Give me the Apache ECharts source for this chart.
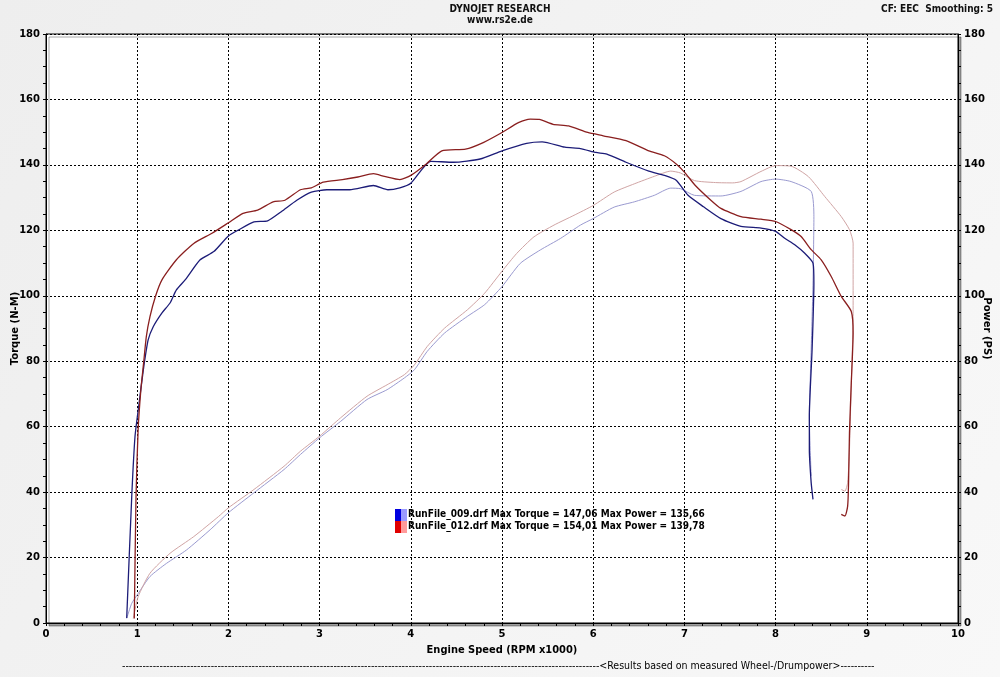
<!DOCTYPE html>
<html lang="de">
<head>
    <meta charset="UTF-8">
    <title>Dynojet RunFile 009 / 012</title>
    <script src="https://cdn.jsdelivr.net/npm/echarts@6/dist/echarts.min.js"></script>
    <style>
        body { margin: 0; padding: 0; }
        #chart { width: 1000px; height: 677px; }
    </style>
</head>
<body>
    <div id="chart"></div>
    <script>
        // RunFile_009 (blau) - Drehmoment
        const rpm009Torque = [0.885, 0.94, 0.976, 1.02, 1.067, 1.12, 1.177, 1.27, 1.36, 1.43, 1.53, 1.69, 1.84, 2.0, 2.11, 2.28, 2.43, 2.58, 2.75, 2.91, 3.08, 3.33, 3.59, 3.75, 3.88, 4.0, 4.22, 4.47, 4.76, 5.0, 5.27, 5.44, 5.69, 5.86, 6.03, 6.15, 6.36, 6.61, 6.78, 6.91, 7.04, 7.21, 7.4, 7.62, 7.84, 8.0, 8.1, 8.21, 8.32, 8.41, 8.42, 8.4, 8.37, 8.37, 8.39, 8.41];
        const torque009 = [1.5, 38.6, 57, 67, 77.3, 86.5, 90.6, 94.7, 97.8, 101.8, 105, 111, 113.5, 118.3, 120.1, 122.6, 122.9, 125.7, 129.2, 131.7, 132.4, 132.4, 133.7, 132.4, 133, 134.4, 141.1, 140.8, 141.8, 144.3, 146.6, 147.06, 145.4, 145, 143.8, 143.3, 140.8, 138.1, 136.8, 135.3, 130.7, 127.2, 123.6, 121.2, 120.7, 119.7, 117.6, 115.6, 113, 110, 103.9, 83.5, 63.2, 53, 42.9, 37.8];

        // RunFile_012 (rot) - Drehmoment
        const rpm012Torque = [0.968, 0.987, 1.01, 1.04, 1.07, 1.1, 1.14, 1.2, 1.27, 1.43, 1.62, 1.82, 2.0, 2.16, 2.32, 2.49, 2.62, 2.79, 2.91, 3.04, 3.25, 3.42, 3.59, 3.71, 3.88, 4.0, 4.17, 4.34, 4.6, 4.8, 5.0, 5.18, 5.31, 5.41, 5.56, 5.73, 5.94, 6.11, 6.36, 6.61, 6.78, 6.91, 7.0, 7.12, 7.29, 7.4, 7.62, 7.84, 8.0, 8.17, 8.28, 8.39, 8.5, 8.61, 8.72, 8.83, 8.85, 8.83, 8.81, 8.8, 8.79, 8.76, 8.72];
        const torque012 = [1.4, 38.6, 59, 71.2, 79.4, 87.5, 93.6, 99.8, 104.8, 111, 116, 119.1, 122.3, 125.2, 126.2, 128.7, 129.2, 132.4, 133, 134.7, 135.5, 136.3, 137.3, 136.5, 135.5, 136.8, 140.3, 144.3, 144.8, 146.9, 149.9, 152.9, 154.01, 153.9, 152.4, 151.9, 149.9, 148.9, 147.4, 144.3, 142.8, 140.3, 137.8, 133.7, 129.2, 126.7, 124.2, 123.4, 122.7, 120.2, 118.1, 114.1, 111, 105.9, 99.8, 95.2, 88.6, 73.4, 58.1, 42.9, 35.7, 32.7, 33.2];

        // RunFile_009 (blau) - Leistung
        const rpm009Power = [0.885, 0.94, 1.01, 1.14, 1.32, 1.54, 1.8, 2.0, 2.28, 2.61, 2.79, 3.0, 3.23, 3.52, 3.74, 3.93, 4.04, 4.18, 4.37, 4.62, 4.81, 5.0, 5.2, 5.42, 5.64, 5.86, 6.0, 6.23, 6.45, 6.67, 6.85, 6.96, 7.11, 7.4, 7.62, 7.84, 8.0, 8.17, 8.39, 8.42, 8.41, 8.39, 8.37, 8.39];
        const power009 = [1.4, 6, 9, 14.2, 18.2, 22.3, 28.5, 33.7, 39.8, 46.9, 51.5, 56.6, 61.6, 68.3, 71.3, 74.9, 77.4, 83, 88.6, 93.7, 97.3, 102.8, 109.9, 114, 117.5, 121.6, 123.6, 127.1, 128.7, 130.7, 132.9, 132.7, 130.7, 130.5, 131.9, 134.9, 135.66, 134.9, 131.9, 124.2, 103.9, 83.5, 63.2, 44.9];

        // RunFile_012 (rot) - Leistung
        const rpm012Power = [0.957, 1.01, 1.14, 1.36, 1.62, 1.89, 2.0, 2.28, 2.61, 2.79, 3.0, 3.23, 3.52, 3.74, 3.93, 4.04, 4.18, 4.37, 4.62, 4.81, 5.0, 5.16, 5.35, 5.57, 5.79, 6.0, 6.23, 6.45, 6.67, 6.85, 6.96, 7.11, 7.34, 7.53, 7.62, 7.84, 8.0, 8.17, 8.36, 8.54, 8.72, 8.81, 8.85, 8.85, 8.83, 8.81, 8.79, 8.76, 8.72];
        const power012 = [1.4, 8, 15.2, 21.3, 26.4, 32.5, 35.2, 40.8, 47.9, 52.5, 57.1, 62.7, 69.3, 72.8, 75.9, 78.9, 84.5, 90.1, 95.7, 100.8, 107.5, 112.9, 118, 121.6, 124.6, 127.6, 131.7, 134.2, 136.5, 138.1, 137.5, 135.2, 134.6, 134.5, 134.9, 138, 139.78, 139.6, 136.4, 130.3, 124.2, 120.2, 116.1, 93.7, 73.4, 53, 42.9, 40.3, 40.8];

        // Legende
        const runNames = ['RunFile_009.drf', 'RunFile_012.drf'];
        const maxTorque = ['147,06', '154,01'];
        const maxPower = ['135,66', '139,78'];

        const zip = (xs, ys) => xs.map((x, i) => [x, ys[i]]);

        const chart = echarts.init(document.getElementById('chart'));
        const tickFont = { fontFamily: 'DejaVu Sans', fontWeight: 'bold', fontSize: 10, color: '#000' };
        const condFont = 'DejaVu Sans Condensed, DejaVu Sans';

        const option = {
            animation: false,
            backgroundColor: new echarts.graphic.LinearGradient(0, 0, 1, 1, [
                { offset: 0, color: '#eeeeee' },
                { offset: 1, color: '#f8f8f8' }
            ]),
            title: [
                {
                    text: 'DYNOJET RESEARCH',
                    subtext: 'www.rs2e.de',
                    left: 'center',
                    top: -1,
                    itemGap: 1,
                    textStyle: { fontFamily: condFont, fontSize: 10, fontWeight: 'bold', color: '#111' },
                    subtextStyle: { fontFamily: condFont, fontSize: 10, fontWeight: 'bold', color: '#111' }
                },
                {
                    text: 'CF: EEC  Smoothing: 5',
                    right: 2,
                    top: -1,
                    textStyle: { fontFamily: condFont, fontSize: 10, fontWeight: 'bold', color: '#111' }
                }
            ],
            grid: {
                left: 46,
                right: 42,
                top: 34,
                bottom: 54,
                containLabel: false,
                outerBoundsMode: 'none',
                show: true,
                backgroundColor: '#fff',
                borderColor: '#000',
                borderWidth: 1,
                shadowColor: 'rgba(0,0,0,0.35)',
                shadowOffsetX: 3,
                shadowOffsetY: 3,
                shadowBlur: 0
            },
            xAxis: {
                type: 'value',
                min: 0,
                max: 10,
                interval: 1,
                name: 'Engine Speed (RPM x1000)',
                nameLocation: 'middle',
                nameGap: 22,
                nameMoveOverlap: false,
                nameTextStyle: { fontFamily: condFont, fontSize: 11, fontWeight: 'bold', color: '#000' },
                axisLine: { lineStyle: { color: '#000' } },
                axisTick: { show: true, length: 3, lineStyle: { color: '#000' } },
                minorTick: { show: true, splitNumber: 5, length: 3, lineStyle: { color: '#000' } },
                axisLabel: Object.assign({ margin: 6 }, tickFont),
                splitLine: { show: true, lineStyle: { color: '#000', type: [2, 2], width: 1 } }
            },
            yAxis: [
                {
                    type: 'value',
                    min: 0,
                    max: 180,
                    interval: 20,
                    name: 'Torque (N-M)',
                    nameLocation: 'middle',
                    nameGap: 26,
                    nameMoveOverlap: false,
                    nameTextStyle: { fontFamily: 'DejaVu Sans', fontSize: 10, fontWeight: 'bold', color: '#000' },
                    axisLine: { show: true, lineStyle: { color: '#000' } },
                    axisTick: { show: true, length: 3, lineStyle: { color: '#000' } },
                    minorTick: { show: true, splitNumber: 4, length: 3, lineStyle: { color: '#000' } },
                    axisLabel: Object.assign({ margin: 6 }, tickFont),
                    splitLine: { show: true, lineStyle: { color: '#000', type: [2, 2], width: 1 } }
                },
                {
                    type: 'value',
                    min: 0,
                    max: 180,
                    interval: 20,
                    position: 'right',
                    name: 'Power (PS)',
                    nameLocation: 'middle',
                    nameGap: 24,
                    nameRotate: -90,
                    nameMoveOverlap: false,
                    nameTextStyle: { fontFamily: 'DejaVu Sans', fontSize: 10, fontWeight: 'bold', color: '#000' },
                    axisLine: { show: true, lineStyle: { color: '#000' } },
                    axisTick: { show: true, length: 3, lineStyle: { color: '#000' } },
                    minorTick: { show: true, splitNumber: 4, length: 3, lineStyle: { color: '#000' } },
                    axisLabel: Object.assign({ margin: 6 }, tickFont),
                    splitLine: { show: false }
                }
            ],
            series: [
                {
                    name: 'Power 009',
                    type: 'line',
                    yAxisIndex: 1,
                    data: zip(rpm009Power, power009),
                    showSymbol: false,
                    smooth: 0.2,
                    lineStyle: { color: '#9a9ad0', width: 1 }
                },
                {
                    name: 'Power 012',
                    type: 'line',
                    yAxisIndex: 1,
                    data: zip(rpm012Power, power012),
                    showSymbol: false,
                    smooth: 0.2,
                    lineStyle: { color: '#d0a4a4', width: 1 }
                },
                {
                    name: 'Torque 009',
                    type: 'line',
                    data: zip(rpm009Torque, torque009),
                    showSymbol: false,
                    smooth: 0.2,
                    lineStyle: { color: '#1c1c78', width: 1.3 }
                },
                {
                    name: 'Torque 012',
                    type: 'line',
                    data: zip(rpm012Torque, torque012),
                    showSymbol: false,
                    smooth: 0.2,
                    lineStyle: { color: '#8a1f1f', width: 1.3 }
                }
            ],
            graphic: [
                // Legende: geteilte Farbkaestchen + Text
                { type: 'rect', left: 395, top: 509, shape: { width: 6, height: 12 }, style: { fill: '#0000e0' } },
                { type: 'rect', left: 401, top: 509, shape: { width: 6, height: 12 }, style: { fill: '#9a9aff' } },
                { type: 'rect', left: 395, top: 521, shape: { width: 6, height: 12 }, style: { fill: '#e00000' } },
                { type: 'rect', left: 401, top: 521, shape: { width: 6, height: 12 }, style: { fill: '#ff9a9a' } },
                {
                    type: 'text', left: 408, top: 509,
                    style: {
                        text: runNames[0] + ' Max Torque = ' + maxTorque[0] + ' Max Power = ' + maxPower[0],
                        font: 'bold 10px "DejaVu Sans Condensed", "DejaVu Sans"', fill: '#000'
                    }
                },
                {
                    type: 'text', left: 408, top: 521,
                    style: {
                        text: runNames[1] + ' Max Torque = ' + maxTorque[1] + ' Max Power = ' + maxPower[1],
                        font: 'bold 10px "DejaVu Sans Condensed", "DejaVu Sans"', fill: '#000'
                    }
                },
                // Fusszeile
                {
                    type: 'text', left: 122, top: 661,
                    style: {
                        text: '-'.repeat(140) + '<Results based on measured Wheel-/Drumpower>' + '-'.repeat(10),
                        font: '10.5px "DejaVu Sans Condensed", "DejaVu Sans"', fill: '#000'
                    }
                }
            ]
        };

        chart.setOption(option);
    </script>
</body>
</html>
